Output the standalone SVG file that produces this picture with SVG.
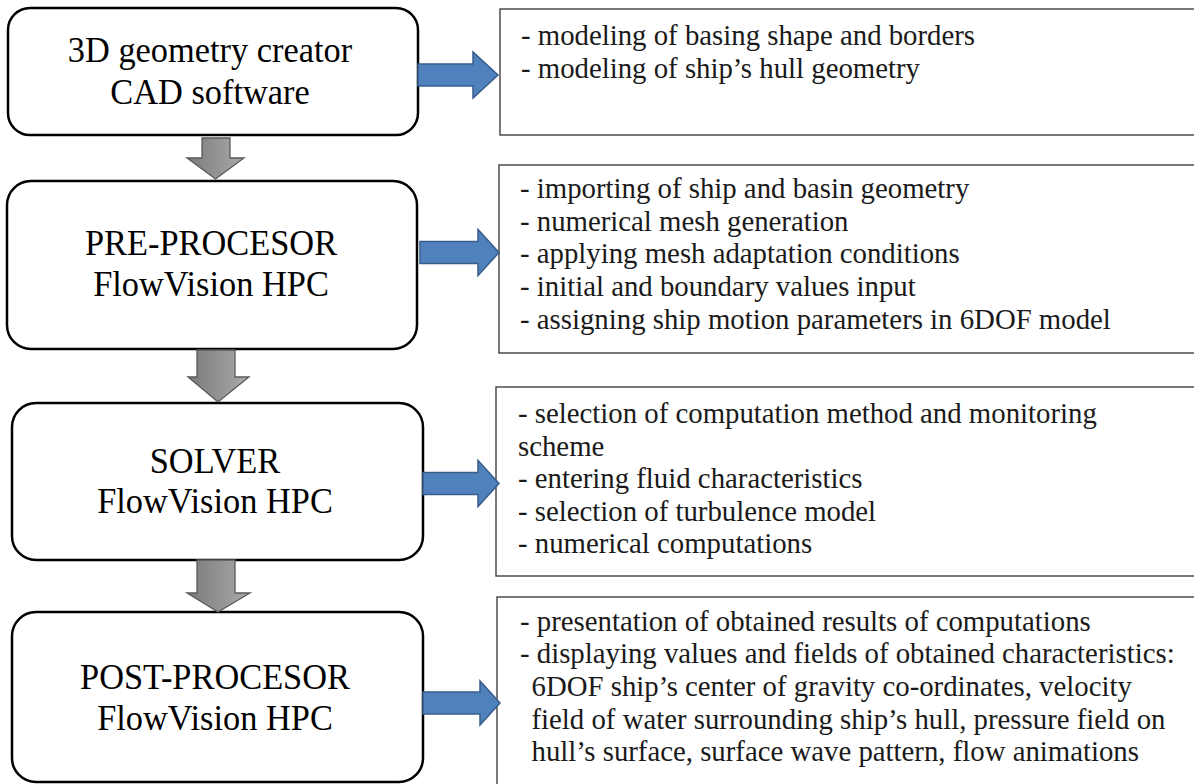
<svg xmlns="http://www.w3.org/2000/svg" width="1194" height="784" viewBox="0 0 1194 784">
  <style>
    .stage { fill: #ffffff; stroke: #000000; stroke-width: 2.5; }
    .info { fill: #ffffff; stroke: #404040; stroke-width: 1.4; }
    .big { font-family: "Liberation Serif", "Times New Roman", serif; font-size: 36px; fill: #000000; text-anchor: middle; }
    .small { font-family: "Liberation Serif", "Times New Roman", serif; font-size: 30px; fill: #1a1a1a; }
    .blue { fill: #4f81bd; stroke: #385d8a; stroke-width: 1.5; stroke-linejoin: miter; }
    .gray { fill: url(#grayGrad); stroke: #595959; stroke-width: 1.3; stroke-linejoin: miter; }
  </style>
  <defs>
    <linearGradient id="grayGrad" x1="0" y1="0" x2="1" y2="0">
      <stop offset="0" stop-color="#7a7a7a"/>
      <stop offset="1" stop-color="#aaaaaa"/>
    </linearGradient>
  </defs>
  <rect width="1194" height="784" fill="#ffffff"/>

  <g id="node-cad">
    <rect class="stage" x="8" y="8" width="410" height="127" rx="22" ry="22"/>
    <g transform="translate(210 0) scale(0.955 1)">
      <text class="big" x="0" y="62">3D geometry creator</text>
      <text class="big" x="0" y="104">CAD software</text>
    </g>
  </g>

  <g id="node-pre">
    <rect class="stage" x="7" y="181" width="410" height="168" rx="24" ry="24"/>
    <g transform="translate(211 0) scale(0.955 1)">
      <text class="big" x="0" y="255">PRE-PROCESOR</text>
      <text class="big" x="0" y="296">FlowVision HPC</text>
    </g>
  </g>

  <g id="node-solver">
    <rect class="stage" x="12" y="403" width="411" height="157" rx="24" ry="24"/>
    <g transform="translate(215 0) scale(0.955 1)">
      <text class="big" x="0" y="473">SOLVER</text>
      <text class="big" x="0" y="513">FlowVision HPC</text>
    </g>
  </g>

  <g id="node-post">
    <rect class="stage" x="12" y="612" width="411" height="170" rx="24" ry="24"/>
    <g transform="translate(215 0) scale(0.955 1)">
      <text class="big" x="0" y="689">POST-PROCESOR</text>
      <text class="big" x="0" y="730">FlowVision HPC</text>
    </g>
  </g>

  <g id="info-cad">
    <rect class="info" x="500" y="9" width="710" height="126"/>
    <g transform="translate(521 0) scale(0.96 1)">
      <text class="small" x="0" y="45">- modeling of basing shape and borders</text>
      <text class="small" x="0" y="78">- modeling of ship’s hull geometry</text>
    </g>
  </g>

  <g id="info-pre">
    <rect class="info" x="499" y="165" width="710" height="188"/>
    <g transform="translate(520 0) scale(0.96 1)">
      <text class="small" x="0" y="198">- importing of ship and basin geometry</text>
      <text class="small" x="0" y="231">- numerical mesh generation</text>
      <text class="small" x="0" y="263.5">- applying mesh adaptation conditions</text>
      <text class="small" x="0" y="296">- initial and boundary values input</text>
      <text class="small" x="0" y="329">- assigning ship motion parameters in 6DOF model</text>
    </g>
  </g>

  <g id="info-solver">
    <rect class="info" x="496" y="387" width="714" height="189"/>
    <g transform="translate(518 0) scale(0.96 1)">
      <text class="small" x="0" y="423">- selection of computation method and monitoring</text>
      <text class="small" x="0" y="456">scheme</text>
      <text class="small" x="0" y="488.5">- entering fluid characteristics</text>
      <text class="small" x="0" y="521">- selection of turbulence model</text>
      <text class="small" x="0" y="553.5">- numerical computations</text>
    </g>
  </g>

  <g id="info-post">
    <rect class="info" x="497" y="597" width="714" height="200"/>
    <g transform="translate(520 0) scale(0.96 1)">
      <text class="small" x="0" y="631">- presentation of obtained results of computations</text>
      <text class="small" x="0" y="663.5">- displaying values and fields of obtained characteristics:</text>
      <text class="small" x="12" y="696">6DOF ship’s center of gravity co-ordinates, velocity</text>
      <text class="small" x="12" y="729">field of water surrounding ship’s hull, pressure field on</text>
      <text class="small" x="12" y="761">hull’s surface, surface wave pattern, flow animations</text>
    </g>
  </g>

  <g id="connectors">
    <polygon class="gray" points="202,138 230,138 230,158 244,158 215.5,179 187,158 202,158"/>
    <polygon class="gray" points="197,350 235,350 235,377 249,377 218,402 188,377 197,377"/>
    <polygon class="gray" points="197,560 235,560 235,593 250,593 218,612 187,593 197,593"/>
    <polygon class="blue" points="418,64 473,64 473,52 498,75 473,98 473,86 418,86"/>
    <polygon class="blue" points="420,241.5 478,241.5 478,229.5 499,252.5 478,275.5 478,263.5 420,263.5"/>
    <polygon class="blue" points="423,472.5 478,472.5 478,460.5 499,483.5 478,506.5 478,494.5 423,494.5"/>
    <polygon class="blue" points="423,692 480,692 480,681 500,703 480,725 480,714 423,714"/>
  </g>
</svg>
